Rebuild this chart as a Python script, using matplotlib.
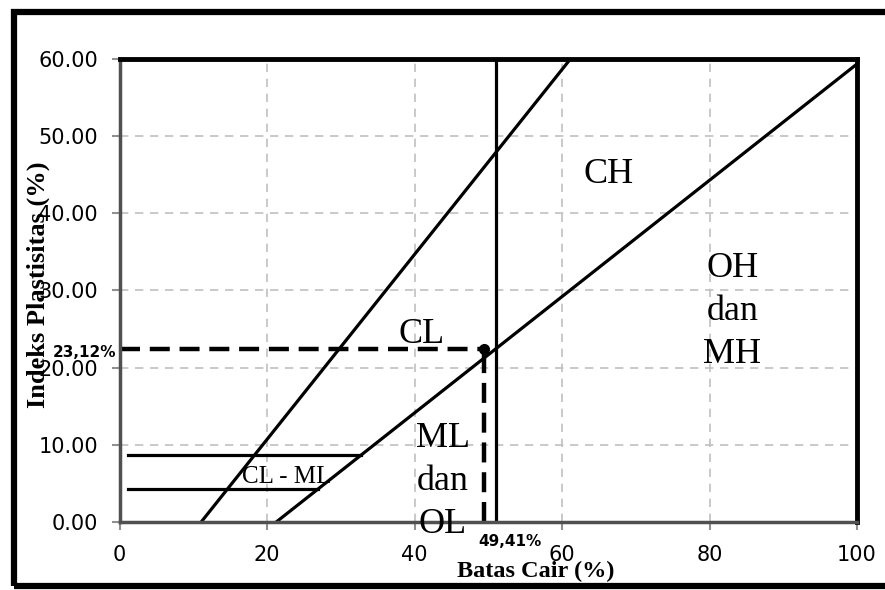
import matplotlib.pyplot as plt
from matplotlib.patches import Rectangle
from matplotlib.ticker import FormatStrFormatter

# chart values
u_line_ll = [11.1, 61.1]
u_line_pi = [0.0, 60.0]
a_line_ll = [21.3, 100.0]
a_line_pi = [0.0, 59.4]
ml_upper_ll = [1.1, 32.8]
ml_upper_pi = [8.65, 8.65]
ml_lower_ll = [1.1, 26.9]
ml_lower_pi = [4.24, 4.24]
ll_limit = 51.1
sample_ll = 49.41
sample_pi = 22.4
sample_ll_label = "49,41%"
sample_pi_label = "23,12%"

x_ticks = [0, 20, 40, 60, 80, 100]
y_ticks = [0, 10, 20, 30, 40, 50, 60]

serif = ['Liberation Serif', 'DejaVu Serif']

fig = plt.figure(figsize=(8.85, 5.9), dpi=100)
ax = fig.add_axes([0.1351, 0.1158, 0.8333, 0.7837])

# outer frame of the picture (right side runs off the edge)
fig.patches.append(Rectangle((0.016, 0.006), 1.05, 0.974, transform=fig.transFigure,
                             fill=False, edgecolor='black', linewidth=4.5, clip_on=False))

ax.set_xlim(0, 100)
ax.set_ylim(0, 60)
ax.set_xticks(x_ticks)
ax.set_yticks(y_ticks)
ax.yaxis.set_major_formatter(FormatStrFormatter('%.2f'))
ax.grid(True, color='#c0c0c0', linestyle=(0, (5, 4)), linewidth=1.2)
ax.set_axisbelow(True)

for side in ['top', 'right']:
    ax.spines[side].set_color('black')
    ax.spines[side].set_linewidth(3.5)
for side in ['left', 'bottom']:
    ax.spines[side].set_color('#505050')
    ax.spines[side].set_linewidth(2.5)
ax.tick_params(axis='both', direction='out', length=5.5, width=1.5, color='#909090',
               labelsize=15)
ax.tick_params(axis='y', pad=10)
ax.tick_params(axis='x', pad=11)

lw = 2.3
ax.plot(u_line_ll, u_line_pi, color='black', linewidth=lw)
ax.plot(a_line_ll, a_line_pi, color='black', linewidth=lw, clip_on=False)
ax.plot(ml_upper_ll, ml_upper_pi, color='black', linewidth=lw)
ax.plot(ml_lower_ll, ml_lower_pi, color='black', linewidth=lw)
ax.plot([ll_limit, ll_limit], [0, 60], color='black', linewidth=lw)

# sample point with dashed guides
ax.plot([0, sample_ll], [sample_pi, sample_pi], color='black', linewidth=3.2,
        dashes=(4.5, 2.2))
ax.plot([sample_ll, sample_ll], [0, sample_pi], color='black', linewidth=3.2,
        dashes=(4.5, 2.2))
ax.plot([sample_ll], [sample_pi], 'o', color='black', markersize=7)

ax.text(-0.4, 22.0, sample_pi_label, ha='right', va='center', fontsize=11,
        fontweight='bold', clip_on=False)
ax.text(52.9, -2.6, sample_ll_label, ha='center', va='center', fontsize=11,
        fontweight='bold', clip_on=False)

# soil group labels
big = 26
ax.text(66.3, 44.0, "CH", ha='center', va='baseline', fontsize=big, family=serif)
ax.text(41.0, 23.2, "CL", ha='center', va='baseline', fontsize=big, family=serif)
ax.text(43.8, 9.7, "ML", ha='center', va='baseline', fontsize=big, family=serif)
ax.text(43.8, 4.1, "dan", ha='center', va='baseline', fontsize=big, family=serif)
ax.text(43.8, -1.5, "OL", ha='center', va='baseline', fontsize=big, family=serif,
        clip_on=False)
ax.text(83.1, 31.75, "OH", ha='center', va='baseline', fontsize=big, family=serif)
ax.text(83.1, 26.2, "dan", ha='center', va='baseline', fontsize=big, family=serif)
ax.text(83.1, 20.55, "MH", ha='center', va='baseline', fontsize=big, family=serif)
ax.text(22.7, 5.06, "CL - ML", ha='center', va='baseline', fontsize=18, family=serif)

ax.set_ylabel("Indeks Plastisitas (%)", fontsize=19, fontweight='bold', family=serif)
ax.yaxis.set_label_coords(-0.094, 0.512)
ax.set_xlabel("Batas Cair (%)", fontsize=17.5, fontweight='bold', family=serif)
ax.xaxis.set_label_coords(0.564, -0.084)

fig.savefig("out.png", dpi=100)
